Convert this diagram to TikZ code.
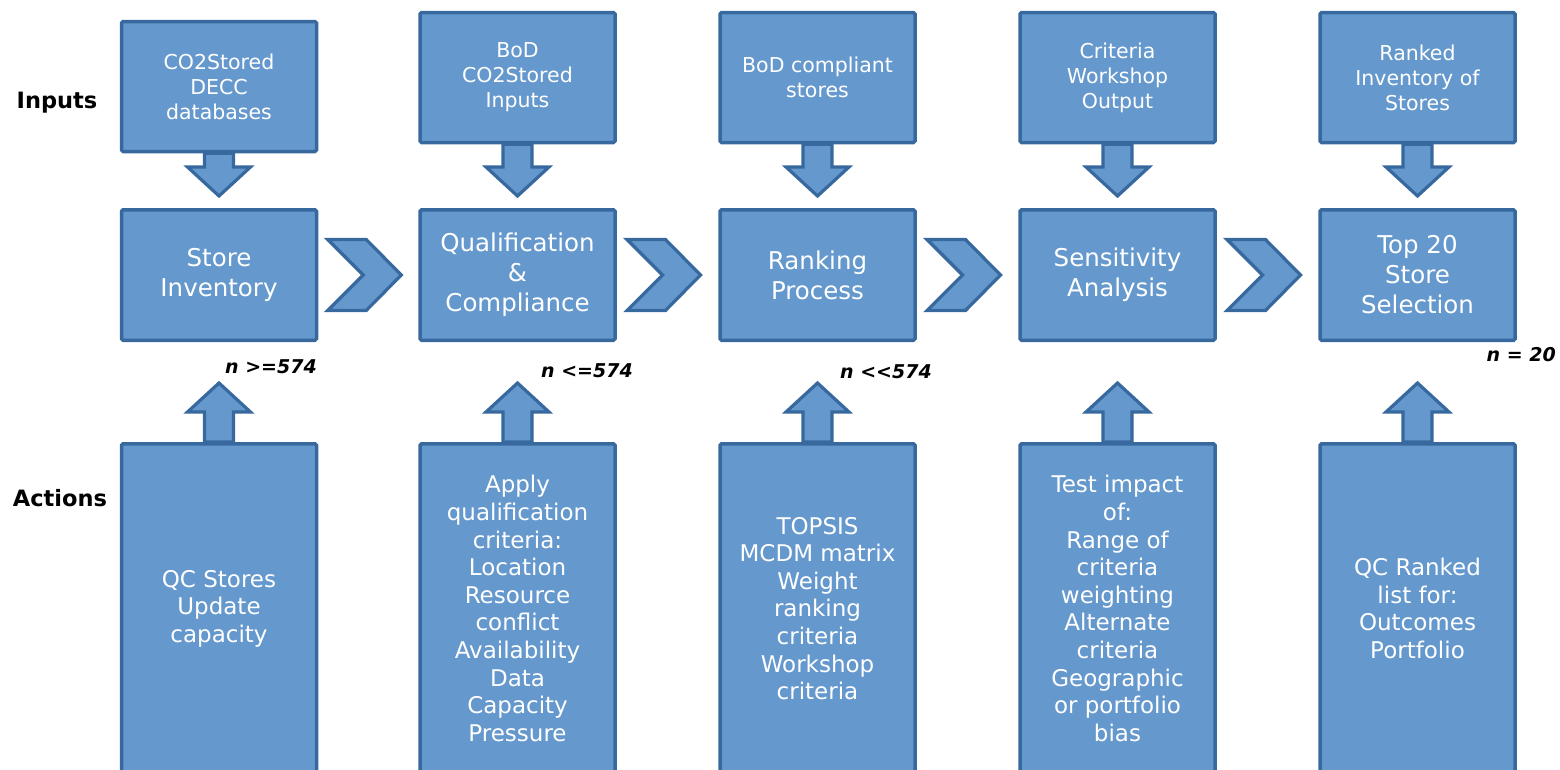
\documentclass[tikz,border=0pt]{standalone}
\usepackage{fontspec}
\setmainfont{DejaVu Sans}
\usetikzlibrary{calc}

\definecolor{boxfill}{RGB}{101,152,205}
\definecolor{boxline}{RGB}{56,105,158}

\tikzset{
  box/.style={draw=boxline, fill=boxfill, line width=3.5pt, rounded corners=1.5pt,
    text=white, align=center, inner sep=0pt, minimum width=195pt},
  inbox/.style={box, minimum height=130pt, font=\fontsize{20.5}{25}\selectfont},
  mainbox/.style={box, minimum height=130.5pt, font=\fontsize{24.5}{30}\selectfont},
  actbox/.style={box, minimum height=329.5pt, font=\fontsize{23}{27.6}\selectfont},
  blockarrow/.style={draw=boxline, fill=boxfill, line width=3.2pt, line join=miter},
  rowlabel/.style={font=\fontsize{22.5}{27}\selectfont\bfseries},
  countlabel/.style={anchor=east, inner sep=0pt, font=\fontsize{19}{23}\selectfont\bfseries\itshape}
}

% block arrow from a box edge (#1) to its tip (#2), #3 = head length (+ down, - up)
\newcommand{\blockarr}[3]{%
  \draw[blockarrow] ($(#1)+(-14.5,0)$) -- ($(#2)+(-14.5,#3)$) -- ($(#2)+(-31.5,#3)$) -- (#2)
    -- ($(#2)+(31.5,#3)$) -- ($(#2)+(14.5,#3)$) -- ($(#1)+(14.5,0)$) -- cycle;}

% chevron between two boxes
\newcommand{\chevron}[2]{%
  \draw[blockarrow, shift={($(#1.east)!0.5!(#2.west)+(-3.5,0)$)}]
    (-37,35.5) -- (1.5,35.5) -- (36.5,0) -- (1.5,-35.5) -- (-37,-35.5) -- (-1.5,0) -- cycle;}

\begin{document}
\begin{tikzpicture}[x=1pt, y=1pt]
  \useasboundingbox (0,0) rectangle (1560,-769);
  \clip (0,0) rectangle (1560,-769);

  % row labels
  \node[rowlabel] (lblin) at (57,-103) {Inputs};
  \node[rowlabel] (lblact) at (60,-498) {Actions};

  % inputs
  \node[inbox] (inp1) at (219,-86.5) {CO2Stored\\DECC\\databases};
  \node[inbox] (inp2) at (517.5,-77.5) {BoD\\CO2Stored\\Inputs};
  \node[inbox] (inp3) at (817.5,-77.5) {BoD compliant\\stores};
  \node[inbox] (inp4) at (1117.5,-77.5) {Criteria\\Workshop\\Output};
  \node[inbox] (inp5) at (1417.5,-77.5) {Ranked\\Inventory of\\Stores};

  % process
  \node[mainbox] (proc1) at (219,-275) {Store\\Inventory};
  \node[mainbox] (proc2) at (517.5,-275) {Qualification\\\&\\Compliance};
  \node[mainbox] (proc3) at (817.5,-275) {Ranking\\Process};
  \node[mainbox] (proc4) at (1117.5,-275) {Sensitivity\\Analysis};
  \node[mainbox] (proc5) at (1417.5,-275) {Top 20\\Store\\Selection};

  % actions
  \node[actbox] (act1) at (219,-608.5) {QC Stores\\Update\\capacity};
  \node[actbox] (act2) at (517.5,-608.5) {Apply\\qualification\\criteria:\\Location\\Resource\\conflict\\Availability\\Data\\Capacity\\Pressure};
  \node[actbox] (act3) at (817.5,-608.5) {TOPSIS\\MCDM matrix\\Weight\\ranking\\criteria\\Workshop\\criteria};
  \node[actbox] (act4) at (1117.5,-608.5) {Test impact\\of:\\Range of\\criteria\\weighting\\Alternate\\criteria\\Geographic\\or portfolio\\bias};
  \node[actbox] (act5) at (1417.5,-608.5) {QC Ranked\\list for:\\Outcomes\\Portfolio};

  % inputs down
  \blockarr{inp1.south}{$(proc1.north)+(0,12)$}{29}
  \blockarr{inp2.south}{$(proc2.north)+(0,12)$}{29}
  \blockarr{inp3.south}{$(proc3.north)+(0,12)$}{29}
  \blockarr{inp4.south}{$(proc4.north)+(0,12)$}{29}
  \blockarr{inp5.south}{$(proc5.north)+(0,12)$}{29}

  % actions up
  \blockarr{act1.north}{$(act1.north)+(0,59)$}{-29}
  \blockarr{act2.north}{$(act2.north)+(0,59)$}{-29}
  \blockarr{act3.north}{$(act3.north)+(0,59)$}{-29}
  \blockarr{act4.north}{$(act4.north)+(0,59)$}{-29}
  \blockarr{act5.north}{$(act5.north)+(0,59)$}{-29}

  % flow
  \chevron{proc1}{proc2}
  \chevron{proc2}{proc3}
  \chevron{proc3}{proc4}
  \chevron{proc4}{proc5}

  % counts
  \node[countlabel] (cnt1) at (317,-367) {n >=574};
  \node[countlabel] (cnt2) at (633,-371) {n <=574};
  \node[countlabel] (cnt3) at (932,-372) {n <{}<574};
  \node[countlabel] (cnt5) at (1556,-355) {n = 20};
\end{tikzpicture}
\end{document}
